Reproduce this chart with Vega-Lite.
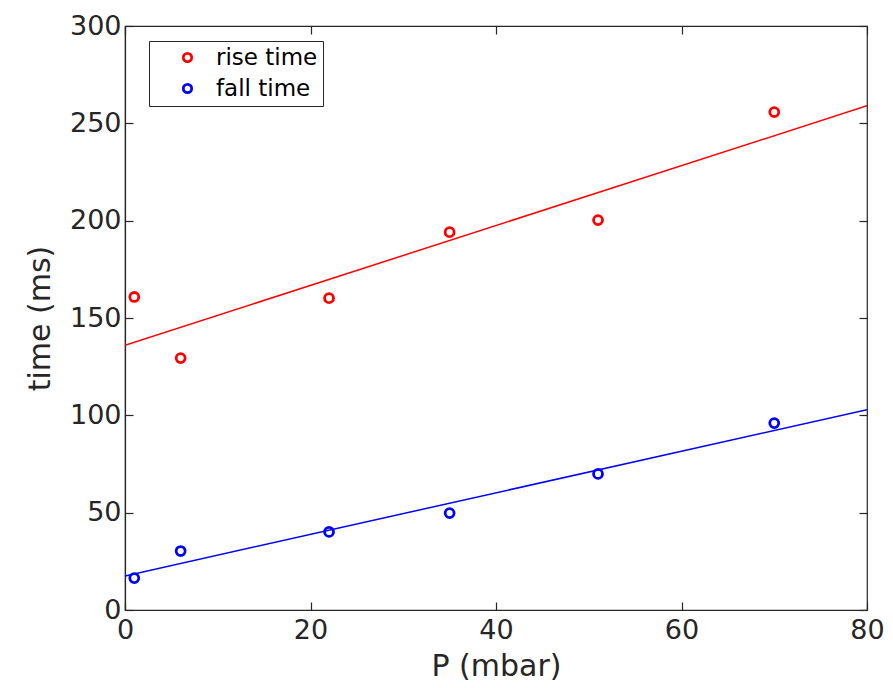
{
  "$schema": "https://vega.github.io/schema/vega-lite/v6.json",
  "width": 742,
  "height": 584,
  "autosize": "none",
  "padding": {"left": 125, "top": 26, "right": 26, "bottom": 78},
  "background": "white",
  "resolve": {"axis": {"x": "independent", "y": "independent"}},
  "config": {
    "font": "DejaVu Sans",
    "view": {"stroke": "#262626", "strokeWidth": 1.2},
    "axis": {
      "grid": false,
      "domainColor": "#262626",
      "domainWidth": 1.2,
      "tickColor": "#262626",
      "tickWidth": 1.2,
      "tickSize": -8,
      "labelFlush": false,
      "labelColor": "#262626",
      "titleColor": "#262626",
      "labelFont": "DejaVu Sans",
      "titleFont": "DejaVu Sans",
      "labelFontSize": 27,
      "titleFontSize": 30,
      "titleFontWeight": "normal"
    }
  },
  "datasets": {
    "pts": [
      {"P": 1, "time": 160.8, "series": "rise time"},
      {"P": 6, "time": 129.4, "series": "rise time"},
      {"P": 22, "time": 160.2, "series": "rise time"},
      {"P": 35, "time": 194.1, "series": "rise time"},
      {"P": 51, "time": 200.3, "series": "rise time"},
      {"P": 70, "time": 255.8, "series": "rise time"},
      {"P": 1, "time": 16.4, "series": "fall time"},
      {"P": 6, "time": 30.3, "series": "fall time"},
      {"P": 22, "time": 40.1, "series": "fall time"},
      {"P": 35, "time": 49.8, "series": "fall time"},
      {"P": 51, "time": 69.9, "series": "fall time"},
      {"P": 70, "time": 96.0, "series": "fall time"}
    ],
    "fits": [
      {"P": 0, "time": 136.0, "series": "rise time"},
      {"P": 80, "time": 259.0, "series": "rise time"},
      {"P": 0, "time": 17.5, "series": "fall time"},
      {"P": 80, "time": 102.9, "series": "fall time"}
    ]
  },
  "layer": [
    {
      "data": {"name": "fits"},
      "transform": [{"filter": "datum.series === 'rise time'"}],
      "mark": {"type": "line", "color": "#ff0000", "strokeWidth": 1.5, "clip": true},
      "encoding": {
        "x": {"field": "P", "type": "quantitative", "scale": {"domain": [0, 80], "nice": false}, "axis": {"orient": "bottom", "values": [0, 20, 40, 60, 80], "title": "P (mbar)", "labelPadding": 15, "titlePadding": 8}},
        "y": {"field": "time", "type": "quantitative", "scale": {"domain": [0, 300], "nice": false, "zero": false}, "axis": {"orient": "left", "values": [0, 50, 100, 150, 200, 250, 300], "title": "time (ms)", "labelPadding": 12, "titlePadding": 14}}
      }
    },
    {
      "data": {"name": "fits"},
      "transform": [{"filter": "datum.series === 'fall time'"}],
      "mark": {"type": "line", "color": "#0000ff", "strokeWidth": 1.5, "clip": true},
      "encoding": {
        "x": {"field": "P", "type": "quantitative", "axis": {"orient": "top", "values": [0, 20, 40, 60, 80], "labels": false, "title": null, "domain": false}},
        "y": {"field": "time", "type": "quantitative", "axis": {"orient": "right", "values": [0, 50, 100, 150, 200, 250, 300], "labels": false, "title": null, "domain": false}}
      }
    },
    {
      "data": {"name": "pts"},
      "mark": {"type": "point", "shape": "circle", "filled": false, "size": 80, "strokeWidth": 2.8, "opacity": 1},
      "encoding": {
        "x": {"field": "P", "type": "quantitative", "axis": null},
        "y": {"field": "time", "type": "quantitative", "axis": null},
        "color": {
          "field": "series",
          "type": "nominal",
          "scale": {"domain": ["rise time", "fall time"], "range": ["#ff0000", "#0000ff"]},
          "legend": {
            "orient": "none",
            "legendX": 24,
            "legendY": 15,
            "title": null,
            "labelFontSize": 23,
            "labelColor": "#000000",
            "labelFont": "DejaVu Sans",
            "strokeColor": "#262626",
            "fillColor": "white",
            "padding": 5,
            "symbolSize": 70,
            "symbolStrokeWidth": 2.8,
            "symbolOffset": 22,
            "labelOffset": 17,
            "rowPadding": 7
          }
        }
      }
    }
  ]
}
